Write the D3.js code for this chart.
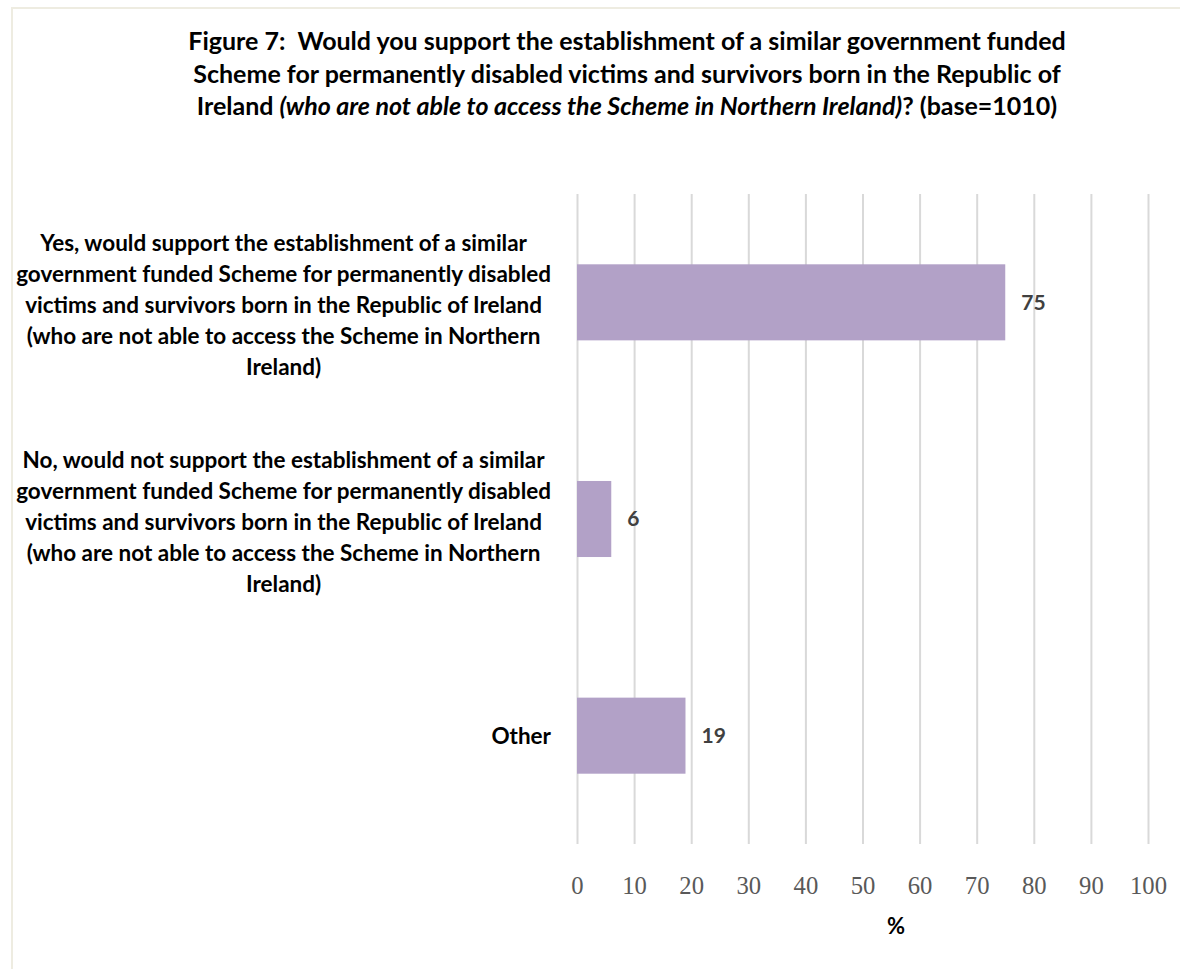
<!DOCTYPE html>
<html>
<head>
<meta charset="utf-8">
<script src="https://cdn.jsdelivr.net/npm/d3@7"></script>
<style>
  body { margin: 0; background: #ffffff; }
  svg { display: block; }
  text { white-space: pre; }
</style>
</head>
<body>
<svg id="chart" width="1180" height="969"></svg>
<script>
// ---- data ----
const categories = ["Yes", "No", "Other"];
const categoryLines = [
  ["Yes, would support the establishment of a similar",
   "government funded Scheme for permanently disabled",
   "victims and survivors born in the Republic of Ireland",
   "(who are not able to access the Scheme in Northern",
   "Ireland)"],
  ["No, would not support the establishment of a similar",
   "government funded Scheme for permanently disabled",
   "victims and survivors born in the Republic of Ireland",
   "(who are not able to access the Scheme in Northern",
   "Ireland)"],
  ["Other"]
];
const values = [75, 6, 19];
const xTicks = [0, 10, 20, 30, 40, 50, 60, 70, 80, 90, 100];
const titleLines = [
  [{ text: "Figure 7:  Would you support the establishment of a similar government funded", italic: false }],
  [{ text: "Scheme for permanently disabled victims and survivors born in the Republic of", italic: false }],
  [{ text: "Ireland ", italic: false },
   { text: "(who are not able to access the Scheme in Northern Ireland)", italic: true },
   { text: "? (base=1010)", italic: false }]
];
const axisTitle = "%";

// ---- layout ----
const W = 1180, H = 969;
const SANS = "Lato, 'Open Sans', 'Noto Sans', sans-serif";
const SERIF = "'Liberation Serif', 'DejaVu Serif', serif";
const plot = { left: 577, right: 1148, top: 194, bottom: 844 };

const svg = d3.select("#chart");

// size a font so a given string spans a given width
function fitSize(family, weight, text, target) {
  const t = svg.append("text")
    .attr("font-family", family)
    .attr("font-weight", weight)
    .attr("font-size", 100)
    .text(text);
  const w = t.node().getComputedTextLength();
  t.remove();
  return 100 * target / w;
}

// chart frame
svg.append("rect").attr("width", W).attr("height", H).attr("fill", "#ffffff");
svg.append("path")
  .attr("d", `M${W + 5},8 H12 V${H + 5}`)
  .attr("fill", "none")
  .attr("stroke", "#eeece1")
  .attr("stroke-width", 2);

// ---- title ----
const titleSize = fitSize(SANS, 700, titleLines[0][0].text, 878);
const title = svg.append("text")
  .attr("text-anchor", "middle")
  .attr("font-family", SANS)
  .attr("font-weight", 700)
  .attr("font-size", titleSize)
  .attr("fill", "#000000");
titleLines.forEach((segs, i) => {
  const line = title.append("tspan").attr("x", 627).attr("y", 50 + i * 32.5);
  segs.forEach(s => {
    line.append("tspan")
      .attr("font-style", s.italic ? "italic" : "normal")
      .text(s.text);
  });
});

// ---- scales ----
const x = d3.scaleLinear().domain([0, 100]).range([plot.left, plot.right]);
const y = d3.scaleBand()
  .domain(categories)
  .range([plot.top, plot.bottom])
  .paddingInner(0.649)
  .paddingOuter(0.3245);

// ---- gridlines + tick labels ----
const xAxis = d3.axisBottom(x)
  .tickValues(xTicks)
  .tickSizeInner(-(plot.bottom - plot.top))
  .tickSizeOuter(0)
  .tickFormat(d3.format("d"));

const tickSize = fitSize(SERIF, 400, "100", 37);
const axisG = svg.append("g")
  .attr("transform", `translate(0,${plot.bottom})`)
  .call(xAxis);
axisG.select(".domain").remove();
axisG.selectAll(".tick line")
  .attr("stroke", "#d9d9d9")
  .attr("stroke-width", 2);
axisG.selectAll(".tick text")
  .attr("y", 41)
  .attr("dy", "0.35em")
  .attr("fill", "#595959")
  .attr("font-family", SERIF)
  .attr("font-size", tickSize);

// axis title
svg.append("text")
  .attr("x", 896)
  .attr("y", 926)
  .attr("dy", "0.35em")
  .attr("text-anchor", "middle")
  .attr("font-family", SANS)
  .attr("font-weight", 700)
  .attr("font-size", 22)
  .attr("fill", "#000000")
  .text(axisTitle);

// ---- bars ----
svg.append("g")
  .selectAll("rect")
  .data(values)
  .join("rect")
  .attr("x", x(0))
  .attr("y", (d, i) => y(categories[i]))
  .attr("width", d => x(d) - x(0))
  .attr("height", y.bandwidth())
  .attr("fill", "#b2a1c7");

// ---- value labels ----
svg.append("g")
  .selectAll("text")
  .data(values)
  .join("text")
  .attr("x", d => x(d) + 16)
  .attr("y", (d, i) => y(categories[i]) + y.bandwidth() / 2)
  .attr("dy", "0.35em")
  .attr("font-family", SANS)
  .attr("font-weight", 700)
  .attr("font-size", 21)
  .attr("fill", "#404040")
  .text(d => d);

// ---- category labels ----
const catSize = fitSize(SANS, 700, categoryLines[0][1], 535);
const lineH = 31;
const labelRight = 551;
const catG = svg.append("g");
categoryLines.forEach((lines, i) => {
  const cy = y(categories[i]) + y.bandwidth() / 2 + (lines.length > 1 ? 3 : 0);
  const t = catG.append("text")
    .attr("text-anchor", "middle")
    .attr("font-family", SANS)
    .attr("font-weight", 700)
    .attr("font-size", catSize)
    .attr("fill", "#000000");
  lines.forEach((ln, j) => {
    t.append("tspan")
      .attr("y", cy + (j - (lines.length - 1) / 2) * lineH)
      .attr("dy", "0.35em")
      .text(ln);
  });
  // centre lines within the block, block right-aligned
  let maxW = 0;
  t.selectAll("tspan").each(function () {
    maxW = Math.max(maxW, this.getComputedTextLength());
  });
  t.selectAll("tspan").attr("x", labelRight - maxW / 2);
});
</script>
</body>
</html>
